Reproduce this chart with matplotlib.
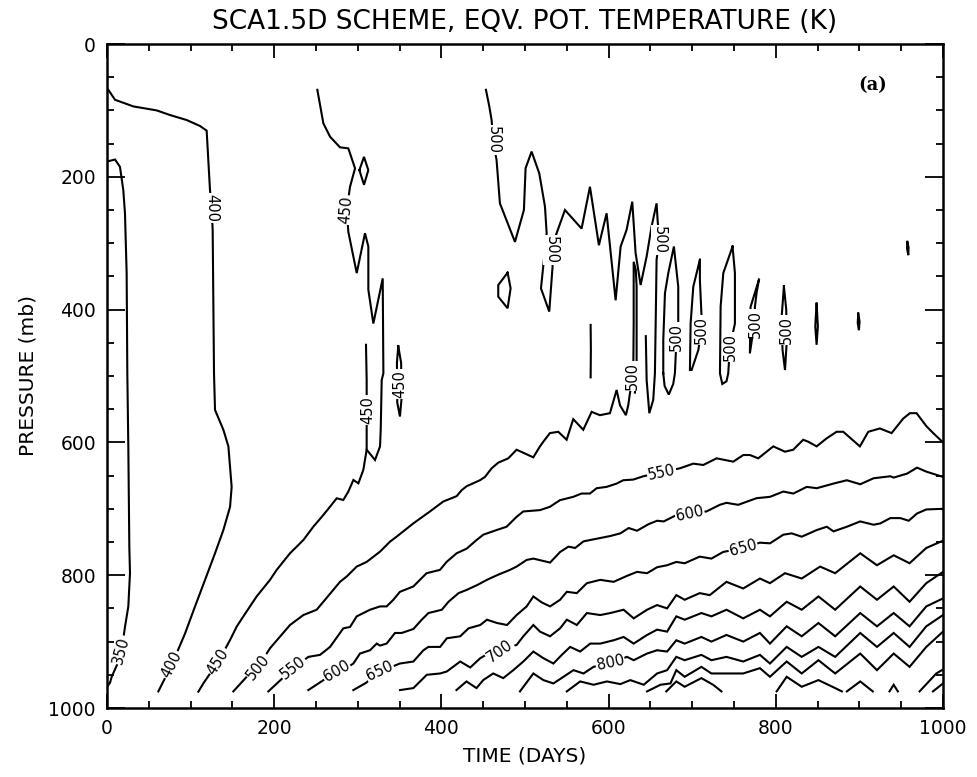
import matplotlib
matplotlib.use("Agg")
import matplotlib.pyplot as plt
from matplotlib.ticker import MultipleLocator

# ---------------- data: contour polylines (time in days, pressure in mb) ----------------
c350 = [(0,177),(9.6,174),(15.5,185),(19.5,220),(21.5,255),(23.5,345),(24.3,496),(25.5,606),
        (26.7,757),(27.5,797),(25.5,847),(21.5,878),(17.5,913),(12,935),(5.6,953),(3.6,962),(0,968)]

c400 = [(1.6,69),(9.6,84),(31.5,94),(59.4,100),(75.4,107),(95.3,114.5),(111.3,123.5),(119.2,130.5),
        (123.2,220),(125.2,247),(126.4,280),(128,496),(129.2,551),(139.2,581),(145.2,606),(149.1,667),
        (147.2,697),(139.2,732),(129.2,767),(117.3,807),(105.3,847),(93.3,888),(77.4,935),(61.4,975)]

c450_upper = [(251.6,69),(258.8,119.5),(266.8,139.6),(278.7,155.6),(288.7,157.2),(296.7,187.3),
              (290.7,215),(286.7,250),(288.7,283),(298.7,345),(308.6,285),(312.6,305),(312.6,370),
              (318.6,421),(329.8,353),(330.6,496),(328.6,506),(327.4,581),(326.6,606),(320.6,626.5),
              (310.6,611),(310.6,506),(309.8,453)]
c450_lower = [(310.6,611),(306.6,641.5),(300.7,661.6),(294.7,656.6),(288.7,674),(282.7,686.7),
              (274.7,684.2),(266.8,696.8),(258.8,709.3),(246.8,727),(234.9,747),(218.9,767),(203,792),
              (195,807),(179,832),(163.1,862),(155.1,877.5),(147.2,897.6),(133.2,930),(115.3,962.8),
              (109.3,975.4)]
c450_diamond = [(301.9,190),(307.4,170),(312.6,190),(307.4,212),(301.9,190)]
c450_loop = [(348.4,455),(346.8,480),(347.2,540),(350.4,561),(352.6,530),(351.8,480),(348.4,455)]

c500_upper = [(453.3,69),(457.3,94),(460.1,115),(462,145),(466,175),(470,240),(488,298),(498.7,250),
              (500.7,187),(507.9,162),(517.1,195),(523.9,245),(525.9,285),(519.1,368),(529,403),
              (533,335),(531.8,308),(537.8,285),(547.8,250),(567.7,278),(577.7,215),(588.4,303),
              (597.6,255),(608.4,386),(614.4,305),(621.5,280),(628.3,237.5),(632.3,315),(638.3,363),
              (645.5,320),(651.4,275),(657.4,240),(658.6,265),(660.5,295),(657.4,325),(656.6,396),
              (655.4,496),(653.4,536),(648.7,556),(645.5,506),(644.5,440)]
c500_lower = [(151.1,975),(167.1,953),(181,938),(195,910),(218.9,875),(234.9,860),(250.8,852),
              (258.8,840),(278.7,810),(286.7,802),(298.7,787),(310.6,780),(326.6,764.5),(338.5,749.5),
              (346.4,742),(366.4,722),(386.3,704),(402.3,689),(418.2,681),(424.2,672),(430.2,666),
              (446.1,657),(452.1,652),(460.1,639),(468,630.5),(480,624),(490,611),(509.9,622.5),
              (517.9,606),(521.9,599),(529.8,586),(539.8,584),(549.8,596),(557.7,565),(569.7,581),
              (579.7,554),(589.6,559),(601.6,556),(609.6,521),(613.6,544),(620.7,559),(623.5,544),
              (625.5,526),(629.5,500),(630,420),(630,328),(632.5,340),(633.5,365),(633.5,496),
              (631.5,525)]
c500_loop1 = [(665.4,496),(665.4,446),(667.4,375.5),(671.4,345),(678.1,305),(683.3,365.5),(683.3,421),
              (681.3,441),(679.3,496),(677.3,512),(672,528),(667,515),(665.4,496)]
c500_loop2 = [(709.2,325),(701.3,365.5),(698.1,421),(697.3,491),(699.3,491),(707.3,461),(711.2,431),
              (711.2,411),(709.2,355.4),(709.2,325)]
c500_loop3 = [(748.3,305),(737.2,345),(734,395.6),(733.2,496),(736,512),(741,508),(743.1,496),
              (745.1,456),(751.1,421),(751.1,345),(748.3,305)]
c500_loop4 = [(779.8,355),(769.8,396),(769,466),(772,440),(775,421),(775,396),(777,375),(779.8,355)]
c500_loop5 = [(809.7,365),(807,411),(808,460),(811,491),(813,450),(812.5,400),(809.7,365)]
c500_loop6 = [(848.8,391),(847.2,425),(848.8,453),(850.3,425),(848.8,391)]
c500_loop7 = [(898.6,406),(898,420),(899.4,431),(900.2,418),(898.6,406)]
c500_loop8 = [(957.3,298),(957,308),(958.5,318),(958.8,306),(957.3,298)]
c500_bar = [(578.5,423),(578.8,460),(578.5,502)]
c500_diamond = [(479.2,344.4),(468,363),(468,380.5),(479.2,398),(482.8,368),(479.2,344.4)]

c550 = [(193,975),(222.9,940),(240.8,923),(254.8,920),(266.8,908),(282.7,880),(290.7,878),(298.7,862),
        (314.6,852),(326.6,847),(334.5,847),(342.5,837),(350.4,825),(366.4,817),(374.3,807),(382.3,797),
        (398.3,792),(406.2,780),(418.2,767),(430.2,760),(442.1,747),(450.1,739),(466,732),(478,727),
        (490,712),(497.9,704),(517.9,702),(529.8,697),(541.8,687),(557.7,682),(567.7,677),(577.7,677),
        (585.7,669),(597.6,667),(609.6,662),(617.5,657),(629.5,656),(641.5,651),(663.4,645),(685.3,639),
        (701.3,632),(713.2,634),(729.2,624),(749.1,629),(761.1,619),(769,619),(779,624),(797,606),
        (811,614),(820.9,611),(832.8,596),(838.8,599),(848.8,606),(860.7,594),(872.7,584),(880.7,584),
        (900.6,606),(910.6,584),(924.5,579),(938.5,586),(952.5,564),(960.4,556),(968.4,556),
        (980.4,576),(988.3,586),(1000,600)]

c600 = [(240.8,973),(274.7,945),(288.7,938),(294.7,933),(302.6,918),(314.6,913),(322.6,903),(326.5,906),
        (334.5,903),(344.5,887),(352.5,887),(366.5,881),(376.5,867),(384.5,857),(400.5,852),(408.5,840),
        (420.5,827),(430.5,822),(442.5,815),(454.5,807),(466.5,800),(482,792),(490,787),(502,777),
        (510,775),(530,781),(542,765),(552,757),(560,759),(570,749),(582,746),(602,741),(614,737),
        (624,729),(634,733),(648,723),(658,718),(666,719),(677,712),(685,707),(695,707),(717,704),
        (733,694),(741,691),(755,694),(777,684),(793,682),(809,674),(821,677),(837,667),(849,669),
        (869,662),(885,657),(901,663),(917,654),(937,651),(941,653),(957,647),(969,638),(980,644),
        (1000,652)]

c650 = [(294.7,973),(310,962),(326.5,945),(350.5,933),(366.5,930),(378.5,913),(384.5,908),(398.5,908),
        (406.5,895),(422.5,892),(432.5,880),(446.5,875),(454.5,867),(466.5,872),(478.5,875),(490,860),
        (502,847),(510,832),(520,841),(530,847),(542,837),(550,825),(562,827),(574,812),(590,807),
        (606,810),(622,801),(634,795),(646,797),(658,788),(670,785),(681,780),(691,782),(709,772),
        (723,775),(737,765),(761,759),(781,751),(793,752),(809,739),(819,737),(831,742),(849,732),
        (861,727),(869,734),(885,727),(901,719),(917,724),(925,722),(937,714),(949,714),(959,718),
        (969,707),(980,701),(1000,700)]

c700 = [(350.5,973),(366.5,970),(382.5,950),(398.5,948),(406.5,945),(422.5,930),(434.5,939),(446.5,925),
        (454.5,919),(470,913),(490,905),(498,892),(510,875),(518,885),(530,892),(542,880),(550,867),
        (562,875),(574,857),(590,860),(602,857),(618,852),(630,865),(646,852),(658,845),(670,850),
        (681,830),(691,837),(709,827),(721,830),(741,810),(761,820),(781,805),(793,812),(811,797),
        (831,805),(853,787),(871,797),(901,767),(921,785),(941,770),(960,782),(980,759),(1000,748)]

c750 = [(418,973),(430,960),(442,970),(450,958),(462,948),(474,955),(486,943),(498,930),(510,915),
        (522,925),(534,933),(544,920),(554,908),(566,915),(578,903),(590,903),(606,898),(618,893),
        (630,903),(646,890),(658,882),(670,885),(681,862),(691,867),(711,857),(723,862),(741,852),
        (761,865),(781,852),(793,862),(813,840),(831,852),(851,832),(871,852),(901,817),(921,837),
        (941,817),(960,840),(980,812),(1000,795)]

c800 = [(494,975),(510,948),(522,958),(534,963),(546,953),(558,943),(570,948),(582,938),(602,932),
        (622,923),(630,928),(646,918),(658,913),(670,915),(681,898),(691,903),(711,893),(723,900),
        (741,890),(761,900),(781,887),(793,903),(813,877),(831,892),(851,872),(871,892),(901,857),
        (921,877),(941,857),(960,877),(980,847),(1000,835)]

c850 = [(550,975),(566,960),(582,965),(598,960),(614,964),(626,958),(642,965),(658,948),(670,943),
        (681,923),(691,928),(711,920),(723,928),(741,923),(761,930),(781,920),(793,933),(813,908),
        (831,923),(851,908),(871,923),(901,887),(921,908),(941,887),(960,908),(980,877),(1000,860)]

c900 = [(646,975),(662,965),(674,963),(681,943),(691,953),(711,938),(723,948),(741,948),(761,948),
        (781,940),(793,953),(813,930),(831,948),(851,928),(871,948),(901,918),(921,943),(941,918),
        (960,938),(980,908),(1000,885)]

c950_a = [(669,975),(681,960),(691,968),(711,955),(725,965),(735,975)]
c950_b = [(801,975),(813,953),(831,968),(851,958),(871,970),(879,975)]
c950_c = [(885,975),(901,960),(911,970),(916,975)]
c950_d = [(936,975),(941,965),(946,975)]
c950_e = [(972,975),(992,948),(1000,942)]
c1000 = [(988,975),(1000,963)]

contour_lines = [c350, c400, c450_upper, c450_lower, c450_diamond, c450_loop,
                 c500_upper, c500_lower, c500_loop1, c500_loop2,
                 c500_loop3, c500_loop4, c500_loop5, c500_loop6, c500_loop7, c500_loop8,
                 c500_bar, c500_diamond, c550, c600, c650, c700, c750, c800, c850, c900,
                 c950_a, c950_b, c950_c, c950_d, c950_e, c1000]

# contour labels
label_text = ["350", "400", "400", "450", "450", "450", "450",
              "500", "500", "500", "500", "500", "500", "500", "500", "500", "500",
              "550", "550", "600", "600", "650", "650", "700", "800"]
label_t = [17.5, 125.5, 77.4, 286.5, 311.5, 350.5, 133.2,
           462, 532, 661, 628, 681.5, 711, 746, 775, 812.5, 181,
           222.9, 663.4, 274.7, 697, 326.5, 761, 470, 602]
label_p = [913, 247, 935, 250, 551, 512, 930,
           145, 310, 295, 500, 441, 431, 456, 421, 431, 938,
           940, 645, 945, 707, 945, 759, 914, 932]
label_rot = [75, -90, 63, 85, 90, 90, 58,
             -90, -90, -90, 90, 90, 90, 90, 90, 90, 51,
             38, 12, 30, 12, 25, 15, 35, 12]

x_ticks = [0, 200, 400, 600, 800, 1000]
y_ticks = [0, 200, 400, 600, 800, 1000]

# ---------------- figure ----------------
fig = plt.figure(figsize=(9.77, 7.77), dpi=100)
ax = fig.add_axes([107/977, 1-708/777, 836/977, 664/777])

for line in contour_lines:
    ts = [pt[0] for pt in line]
    ps = [pt[1] for pt in line]
    ax.plot(ts, ps, color="black", lw=1.5, solid_joinstyle="miter", zorder=2)

for txt, t, p, r in zip(label_text, label_t, label_p, label_rot):
    ax.text(t, p, txt, rotation=r, rotation_mode="anchor", ha="center", va="center",
            fontsize=10.5, family="DejaVu Sans", zorder=3,
            bbox=dict(facecolor="white", edgecolor="none", pad=0.6))

ax.text(916, 62, "(a)", fontsize=13, fontweight="bold", family="DejaVu Serif",
        ha="center", va="center")

ax.set_xlim(0, 1000)
ax.set_ylim(1000, 0)
ax.set_xticks(x_ticks)
ax.set_yticks(y_ticks)
ax.xaxis.set_minor_locator(MultipleLocator(50))
ax.yaxis.set_minor_locator(MultipleLocator(50))
ax.tick_params(which="both", direction="in", top=True, right=True, width=1.3, labelsize=13.5, pad=8)
ax.tick_params(which="major", length=10)
ax.tick_params(which="minor", length=5)
ax.tick_params(axis="y", which="major", length=13)
for s in ax.spines.values():
    s.set_linewidth(1.8)

ax.set_xlabel("TIME (DAYS)", fontsize=14.5, labelpad=6)
ax.set_ylabel("PRESSURE (mb)", fontsize=14.5, labelpad=8)
fig.text(525/977, 1-22/777, "SCA1.5D SCHEME, EQV. POT. TEMPERATURE (K)", ha="center", va="center",
         fontsize=19)

fig.savefig("out.png", dpi=100)
